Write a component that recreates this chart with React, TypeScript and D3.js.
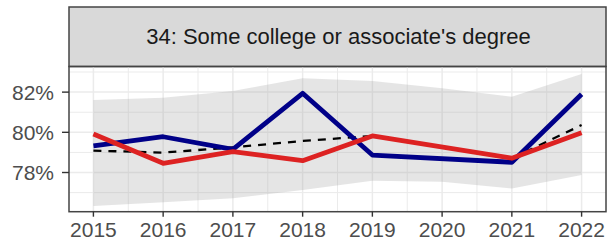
import React from 'react';
import * as d3 from 'd3';

const years = [2015, 2016, 2017, 2018, 2019, 2020, 2021, 2022];
const blueSeries = [79.32, 79.78, 79.15, 81.94, 78.87, null, 78.51, 81.89];
const redSeries = [79.92, 78.46, 79.04, 78.59, 79.82, null, 78.71, 79.98];
const trendSeries = [79.09, 78.99, 79.25, 79.57, 79.82, null, 78.7, 80.36];
const bandHigh = [81.61, 81.72, 82.05, 82.69, 82.55, 82.19, 81.77, 82.9];
const bandLow = [76.33, 76.52, 76.72, 77.13, 77.59, 77.54, 77.21, 77.88];
const yTicks = [78, 80, 82];
const yMinor = [77, 79, 81, 83];
const title = "34: Some college or associate's degree";

const W = 607;
const H = 245;
const panel = { left: 69, right: 606, top: 66.5, bottom: 211.7 };
const strip = { top: 7, bottom: 66.5 };
const font = "'Liberation Sans', Arial, sans-serif";

export default function App() {
  const x = d3.scaleLinear().domain([2014.65, 2022.35]).range([panel.left, panel.right]);
  const y = d3.scaleLinear().domain([76.05, 83.25]).range([panel.bottom, 67]);

  type Pt = { year: number; v: number | null };
  const pts = (vals: (number | null)[]): Pt[] => years.map((year, i) => ({ year, v: vals[i] }));

  // blue and red run straight across the missing 2020
  const connected = d3
    .line<Pt>()
    .x((d) => x(d.year))
    .y((d) => y(d.v as number));
  const gapped = d3
    .line<Pt>()
    .defined((d) => d.v != null)
    .x((d) => x(d.year))
    .y((d) => y(d.v as number));

  const band = d3
    .area<number>()
    .x((d) => x(d))
    .y0((_, i) => y(bandLow[i]))
    .y1((_, i) => y(bandHigh[i]));

  const xMinor = years.slice(0, -1).map((yr) => yr + 0.5);

  return (
    <div style={{ position: 'fixed', left: 0, top: 0 }}>
      <svg width={W} height={H} style={{ display: 'block', background: '#fff' }}>
        {/* strip */}
        <rect
          x={panel.left}
          y={strip.top}
          width={panel.right - panel.left}
          height={strip.bottom - strip.top}
          fill="#D9D9D9"
          stroke="#444"
          strokeWidth={1.5}
        />
        <text
          x={(panel.left + panel.right) / 2 + 1}
          y={(strip.top + strip.bottom) / 2}
          textAnchor="middle"
          dominantBaseline="central"
          fontFamily={font}
          fontSize={22}
          fill="#1A1A1A"
        >
          {title}
        </text>

        {/* grid */}
        {yMinor.map((v) => (
          <line key={'ym' + v} x1={panel.left} x2={panel.right} y1={y(v)} y2={y(v)} stroke="#EBEBEB" strokeWidth={1} />
        ))}
        {xMinor.map((v) => (
          <line key={'xm' + v} x1={x(v)} x2={x(v)} y1={panel.top} y2={panel.bottom} stroke="#EBEBEB" strokeWidth={1} />
        ))}
        {yTicks.map((v) => (
          <line key={'y' + v} x1={panel.left} x2={panel.right} y1={y(v)} y2={y(v)} stroke="#EBEBEB" strokeWidth={1.5} />
        ))}
        {years.map((v) => (
          <line key={'x' + v} x1={x(v)} x2={x(v)} y1={panel.top} y2={panel.bottom} stroke="#EBEBEB" strokeWidth={1.5} />
        ))}

        {/* ribbon */}
        <path d={band(years) || ''} fill="#999999" fillOpacity={0.25} />

        {/* trend */}
        <path
          d={gapped(pts(trendSeries)) || ''}
          fill="none"
          stroke="#000"
          strokeWidth={2.3}
          strokeDasharray="8,7"
        />
        {/* series */}
        <path
          d={connected(pts(blueSeries).filter((d) => d.v != null)) || ''}
          fill="none"
          stroke="#000088"
          strokeWidth={4.8}
          strokeLinejoin="round"
        />
        <path
          d={connected(pts(redSeries).filter((d) => d.v != null)) || ''}
          fill="none"
          stroke="#DD2222"
          strokeWidth={4.8}
          strokeLinejoin="round"
        />

        {/* panel border */}
        <rect
          x={panel.left}
          y={panel.top}
          width={panel.right - panel.left}
          height={panel.bottom - panel.top}
          fill="none"
          stroke="#444"
          strokeWidth={1.5}
        />

        {/* y axis */}
        {yTicks.map((v) => (
          <g key={'yt' + v}>
            <line x1={panel.left - 7} x2={panel.left} y1={y(v)} y2={y(v)} stroke="#333" strokeWidth={1.4} />
            <text
              x={panel.left - 15}
              y={y(v)}
              textAnchor="end"
              dominantBaseline="central"
              fontFamily={font}
              fontSize={21}
              fill="#4D4D4D"
            >
              {d3.format('d')(v) + '%'}
            </text>
          </g>
        ))}

        {/* x axis */}
        {years.map((v) => (
          <g key={'xt' + v}>
            <line x1={x(v)} x2={x(v)} y1={panel.bottom} y2={panel.bottom + 5} stroke="#333" strokeWidth={1.4} />
            <text x={x(v)} y={237} textAnchor="middle" fontFamily={font} fontSize={21} fill="#4D4D4D">
              {v}
            </text>
          </g>
        ))}
      </svg>
    </div>
  );
}
